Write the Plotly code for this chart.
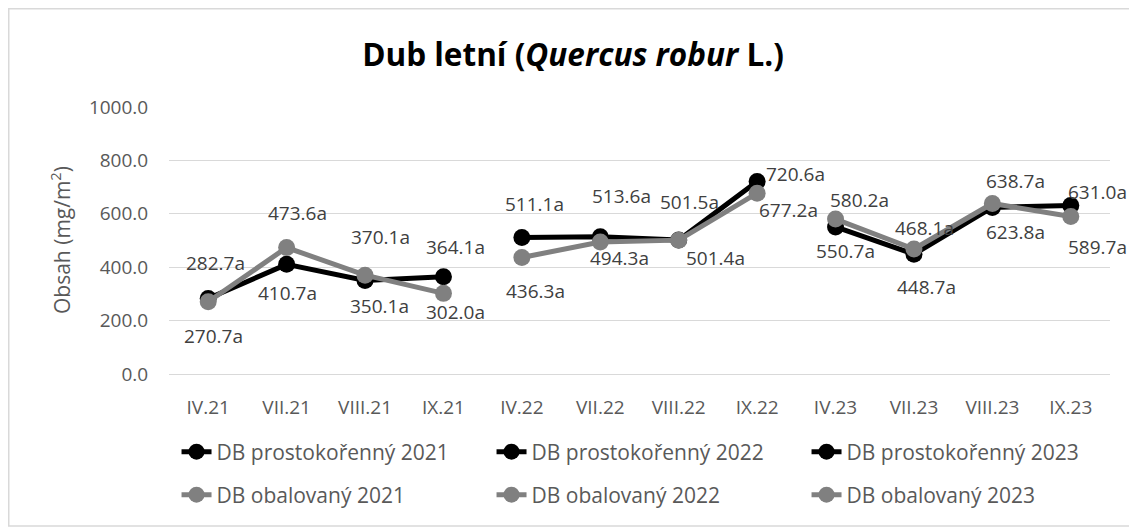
import plotly.graph_objects as go

categories = ["IV.21", "VII.21", "VIII.21", "IX.21", "IV.22", "VII.22", "VIII.22", "IX.22",
              "IV.23", "VII.23", "VIII.23", "IX.23"]

cats_2021 = categories[0:4]
cats_2022 = categories[4:8]
cats_2023 = categories[8:12]

prosto_2021 = [282.7, 410.7, 350.1, 364.1]
prosto_2022 = [511.1, 513.6, 501.5, 720.6]
prosto_2023 = [550.7, 448.7, 623.8, 631.0]

obal_2021 = [270.7, 473.6, 370.1, 302.0]
obal_2022 = [436.3, 494.3, 501.4, 677.2]
obal_2023 = [580.2, 468.1, 638.7, 589.7]

y_ticks = [0, 200, 400, 600, 800, 1000]

# label offsets (pixels) - styling only
off_p21 = [(7, 36), (1, -29), (14, -25), (12, 30)]
off_p22 = [(13, 34), (21, 41), (11, 38), (38, 8)]
off_p23 = [(10, -24), (13, -33), (23, -25), (27, 14)]
off_o21 = [(5, -34), (11, 35), (15, 38), (12, -19)]
off_o22 = [(14, -33), (19, -16), (37, -18), (31, -17)]
off_o23 = [(24, 19), (11, 21), (23, 22), (27, -30)]

FONT = "'Open Sans', Lato, sans-serif"
BLACK = "#000000"
GRAY = "#808080"
TXT = "#595959"
LBL = "#404040"

# page has an 8px body margin, so the figure is drawn 8px smaller
W, H = 1129, 524
ML, MR, MT, MB = 161, 27, 99, 158
PW = W - ML - MR
PH = H - MT - MB

series = [
    ("DB prostokořenný 2021", cats_2021, prosto_2021, BLACK, off_p21, "legend"),
    ("DB prostokořenný 2022", cats_2022, prosto_2022, BLACK, off_p22, "legend"),
    ("DB prostokořenný 2023", cats_2023, prosto_2023, BLACK, off_p23, "legend"),
    ("DB obalovaný 2021", cats_2021, obal_2021, GRAY, off_o21, "legend2"),
    ("DB obalovaný 2022", cats_2022, obal_2022, GRAY, off_o22, "legend2"),
    ("DB obalovaný 2023", cats_2023, obal_2023, GRAY, off_o23, "legend2"),
]

fig = go.Figure()
annotations = []
for name, xs, ys, col, offs, lg in series:
    fig.add_trace(go.Scatter(
        x=xs, y=ys, name=name, mode="lines+markers",
        line=dict(color=col, width=5),
        marker=dict(color=col, size=17),
        legend=lg,
    ))
    for xv, yv, (dx, dy) in zip(xs, ys, offs):
        annotations.append(dict(
            x=xv, y=yv, xref="x", yref="y", text=f"{yv:.1f}a",
            showarrow=False, xshift=dx, yshift=dy,
            font=dict(family=FONT, size=19, color=LBL),
            xanchor="center", yanchor="middle",
        ))

annotations.append(dict(
    x=(52 - ML) / PW, y=(H - MB - 232) / PH, xref="paper", yref="paper",
    text="Obsah (mg/m<sup>2</sup>)", textangle=-90, showarrow=False,
    font=dict(family=FONT, size=21, color=TXT), xanchor="center", yanchor="middle",
))

legend_common = dict(
    orientation="h", x=-0.0005, xanchor="left", yanchor="middle",
    indentation=8, entrywidth=262, entrywidthmode="pixels",
    font=dict(family=FONT, size=21, color=TXT),
    bgcolor="rgba(0,0,0,0)", borderwidth=0,
)

fig.update_layout(
    width=W, height=H,
    margin=dict(l=ML, r=MR, t=MT, b=MB, autoexpand=False),
    paper_bgcolor="white", plot_bgcolor="white",
    title=dict(
        text="<b>Dub letní (<i>Quercus robur</i> L.)</b>",
        x=565 / W, xref="container", y=1 - 47 / H, yref="container",
        xanchor="center", yanchor="middle",
        font=dict(family=FONT, size=31.5, color="#000000"),
    ),
    xaxis=dict(
        type="category", categoryorder="array", categoryarray=categories,
        range=[-0.5, len(categories) - 0.5],
        showgrid=False, showline=False, zeroline=False,
        ticks="outside", ticklen=16, tickcolor="rgba(0,0,0,0)",
        tickfont=dict(family=FONT, size=19, color=TXT),
    ),
    yaxis=dict(
        range=[0, 1000], tickvals=y_ticks, tickformat=".1f",
        showgrid=True, gridcolor="#d9d9d9", gridwidth=1.3,
        zeroline=True, zerolinecolor="#d9d9d9", zerolinewidth=1.3,
        showline=False,
        ticks="outside", ticklen=16, tickcolor="rgba(0,0,0,0)",
        tickfont=dict(family=FONT, size=19, color=TXT),
    ),
    legend=dict(legend_common, y=(H - MB - 444) / PH),
    legend2=dict(legend_common, y=(H - MB - 487) / PH),
    annotations=annotations,
    shapes=[dict(
        type="rect", xref="paper", yref="paper",
        x0=(0.75 - ML) / PW, x1=(1123 - ML) / PW,
        y0=(H - MB - 518) / PH, y1=(H - MB - 0.75) / PH,
        line=dict(color="#d9d9d9", width=1.5), fillcolor="rgba(0,0,0,0)",
        layer="below",
    )],
    showlegend=True,
)

fig.write_html("out.html")
